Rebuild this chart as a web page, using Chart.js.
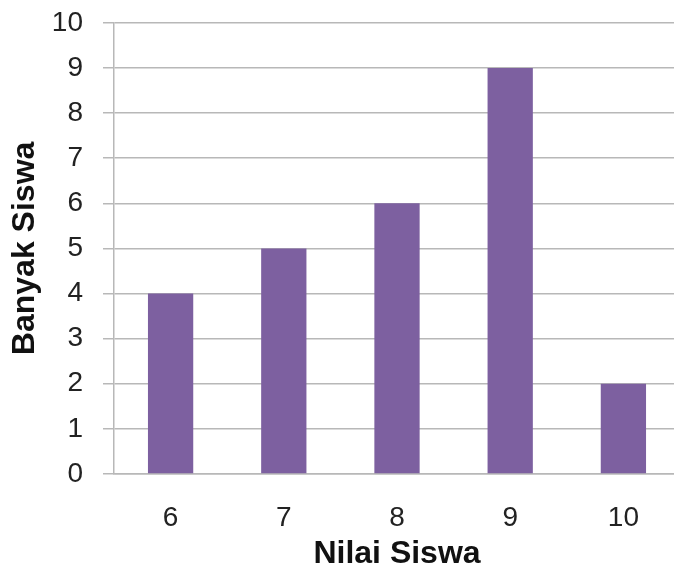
<!DOCTYPE html>
<html>
<head>
<meta charset="utf-8">
<script src="https://cdn.jsdelivr.net/npm/chart.js@4/dist/chart.umd.min.js"></script>
<style>
html,body{margin:0;padding:0;background:#fff;overflow:hidden;}
#wrap{width:680px;height:573px;overflow:hidden;}
#c{display:block;margin-top:-14px;}
</style>
</head>
<body>
<div id="wrap"><canvas id="c" width="680" height="587"></canvas></div>
<script>
const categories = ["6", "7", "8", "9", "10"];
const values = [4, 5, 6, 9, 2];
const yTicks = [0, 1, 2, 3, 4, 5, 6, 7, 8, 9, 10];
const xTitle = "Nilai Siswa";
const yTitle = "Banyak Siswa";

const FONT = "'Liberation Sans', Arial, sans-serif";
new Chart(document.getElementById('c'), {
  type: 'bar',
  data: {
    labels: categories,
    datasets: [{
      data: values,
      backgroundColor: '#7D60A0',
      borderWidth: 0,
      barPercentage: 0.4,
      categoryPercentage: 1.0
    }]
  },
  options: {
    responsive: false,
    animation: false,
    devicePixelRatio: 1,
    layout: { padding: { top: 0, left: 0, right: 0, bottom: 0 } },
    plugins: { legend: { display: false }, tooltip: { enabled: false } },
    scales: {
      x: {
        afterFit: (s) => { s.height = 99; },
        grid: { display: false, drawTicks: false },
        border: { display: true, color: '#b8b8b8', width: 1.5 },
        ticks: { color: '#222', font: { family: FONT, size: 28 }, padding: 27 },
        title: { display: true, text: xTitle, color: '#111', font: { family: FONT, size: 32, weight: 'bold' }, padding: { top: 0, bottom: 0 } }
      },
      y: {
        min: 0, max: 10,
        afterBuildTicks: (s) => { s.ticks = yTicks.map(v => ({ value: v })); },
        afterFit: (s) => { s.width = 114; },
        grid: { color: '#b8b8b8', lineWidth: 1.5, tickLength: 11, drawTicks: true },
        border: { display: true, color: '#b8b8b8', width: 1.5 },
        ticks: { color: '#222', font: { family: FONT, size: 28 }, padding: 20 },
        title: { display: true, text: yTitle, color: '#111', font: { family: FONT, size: 32, weight: 'bold' }, padding: { top: 6, bottom: 0 } }
      }
    }
  }
});
</script>
</body>
</html>
